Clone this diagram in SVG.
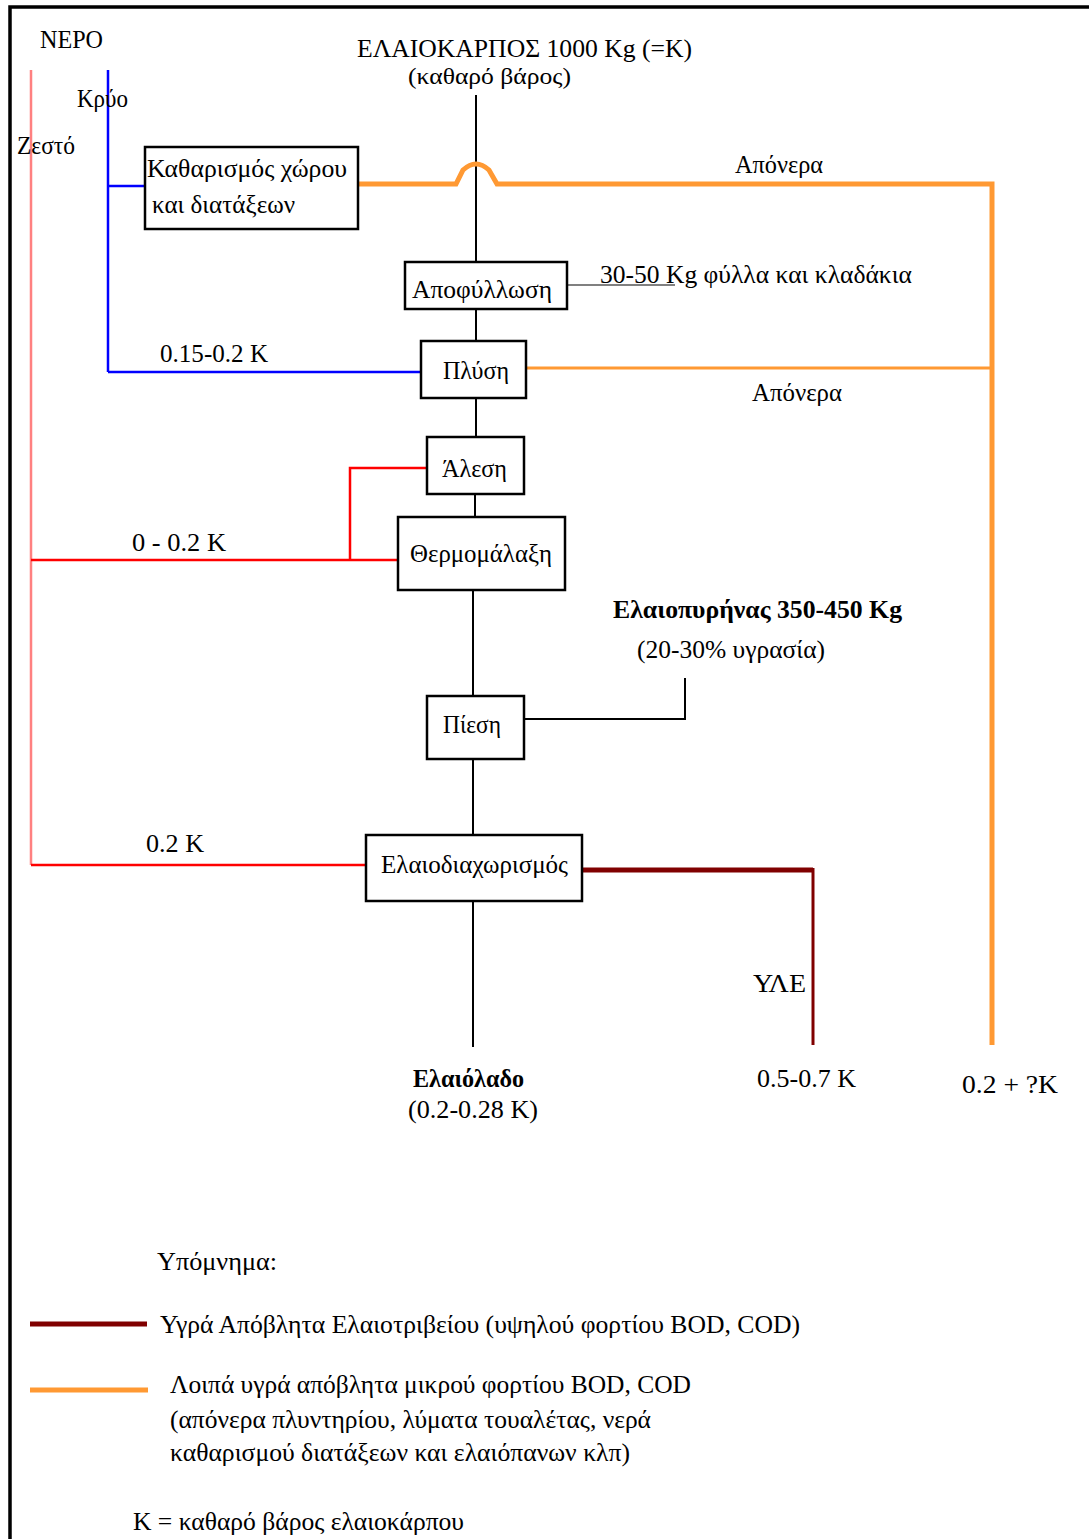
<svg xmlns="http://www.w3.org/2000/svg" width="1089" height="1539" viewBox="0 0 1089 1539">
<style>
text{font-family:"Liberation Serif","DejaVu Serif",serif;font-size:26px;fill:#000}
.b{font-weight:bold}
.s{font-size:23px}
.box{fill:#fff;stroke:#000;stroke-width:2.5}
.ln{fill:none;stroke:#000;stroke-width:2}
.blue{fill:none;stroke:#0000ff;stroke-width:2.5}
.pink{fill:none;stroke:#ff8080;stroke-width:2.5}
.red{fill:none;stroke:#ff0000;stroke-width:2.5}
.org{fill:none;stroke:#ff9933;stroke-width:5}
.org2{fill:none;stroke:#ff9933;stroke-width:3}
.dred{fill:none;stroke:#800000;stroke-width:5}
.gray{fill:none;stroke:#808080;stroke-width:2}
</style>
<rect width="1089" height="1539" fill="#fff"/>
<path d="M10,1539 V7 H1089" fill="none" stroke="#000" stroke-width="3.5"/>
<g id="connectors">
  <path class="pink" d="M31,70 V865"/>
  <path class="blue" d="M108,70 V372"/>
  <path class="blue" d="M108,186 H145"/>
  <path class="blue" d="M108,372 H421"/>
  <path class="ln" d="M476,95 V262"/>
  <path class="org" d="M358,184 H456 L463,170 Q476,158 489,170 L497,184 H992 V1045"/>
  <path class="gray" d="M567,285 H675"/>
  <path class="ln" d="M476,309 V341"/>
  <path class="org2" d="M526,368 H992"/>
  <path class="ln" d="M476,398 V437"/>
  <path class="red" d="M427,468 H350 V560"/>
  <path class="red" d="M31,560 H398"/>
  <path class="ln" d="M475,494 V517"/>
  <path class="ln" d="M473,590 V696"/>
  <path class="ln" d="M524,719 H685 V678"/>
  <path class="ln" d="M473,759 V835"/>
  <path class="red" d="M31,865 H366"/>
  <path class="dred" d="M582,870 H813"/>
  <path class="dred" d="M813,868 V1045" style="stroke-width:3"/>
  <path class="ln" d="M473,901 V1047"/>
</g>
<g id="labels">
  <text x="40" y="48" textLength="63" lengthAdjust="spacingAndGlyphs">ΝΕΡΟ</text>
  <text x="77" y="107" textLength="51" lengthAdjust="spacingAndGlyphs">Κρύο</text>
  <text x="17" y="154" textLength="58" lengthAdjust="spacingAndGlyphs">Ζεστό</text>
  <text x="357" y="57" textLength="335" lengthAdjust="spacingAndGlyphs">ΕΛΑΙΟΚΑΡΠΟΣ 1000 Kg (=K)</text>
  <text class="s" x="408" y="84" textLength="163" lengthAdjust="spacingAndGlyphs">(καθαρό βάρος)</text>
  <text x="735" y="173" textLength="88" lengthAdjust="spacingAndGlyphs">Απόνερα</text>
  <text x="600" y="283" textLength="312" lengthAdjust="spacingAndGlyphs">30-50 Kg φύλλα και κλαδάκια</text>
  <text x="160" y="362" textLength="108" lengthAdjust="spacingAndGlyphs">0.15-0.2 K</text>
  <text x="752" y="401" textLength="90" lengthAdjust="spacingAndGlyphs">Απόνερα</text>
  <text x="132" y="551" textLength="94" lengthAdjust="spacingAndGlyphs">0 - 0.2 K</text>
  <text class="b" x="613" y="618" textLength="289" lengthAdjust="spacingAndGlyphs">Ελαιοπυρήνας 350-450 Kg</text>
  <text x="637" y="658" textLength="188" lengthAdjust="spacingAndGlyphs">(20-30% υγρασία)</text>
  <text x="146" y="852" textLength="58" lengthAdjust="spacingAndGlyphs">0.2 K</text>
  <text x="753" y="992" textLength="53" lengthAdjust="spacingAndGlyphs">ΥΛΕ</text>
  <text class="b" x="413" y="1087" textLength="111" lengthAdjust="spacingAndGlyphs">Ελαιόλαδο</text>
  <text x="408" y="1118" textLength="130" lengthAdjust="spacingAndGlyphs">(0.2-0.28 K)</text>
  <text x="757" y="1087" textLength="99" lengthAdjust="spacingAndGlyphs">0.5-0.7 K</text>
  <text x="962" y="1093" textLength="96" lengthAdjust="spacingAndGlyphs">0.2 + ?K</text>
</g>
<g id="n-katharismos">
  <rect class="box" x="145" y="147" width="213" height="82"/>
  <text x="147" y="177" textLength="200" lengthAdjust="spacingAndGlyphs">Καθαρισμός χώρου</text>
  <text x="152" y="213" textLength="143" lengthAdjust="spacingAndGlyphs">και διατάξεων</text>
</g>
<g id="n-apofyllosi">
  <rect class="box" x="405" y="262" width="162" height="47"/>
  <text x="412" y="298" textLength="140" lengthAdjust="spacingAndGlyphs">Αποφύλλωση</text>
</g>
<g id="n-plysi">
  <rect class="box" x="421" y="341" width="105" height="57"/>
  <text x="443" y="379" textLength="66" lengthAdjust="spacingAndGlyphs">Πλύση</text>
</g>
<g id="n-alesi">
  <rect class="box" x="427" y="437" width="97" height="57"/>
  <text x="442" y="477" textLength="65" lengthAdjust="spacingAndGlyphs">Άλεση</text>
</g>
<g id="n-thermomalaxi">
  <rect class="box" x="398" y="517" width="167" height="73"/>
  <text x="410" y="562" textLength="142" lengthAdjust="spacingAndGlyphs">Θερμομάλαξη</text>
</g>
<g id="n-piesi">
  <rect class="box" x="427" y="696" width="97" height="63"/>
  <text x="443" y="733" textLength="58" lengthAdjust="spacingAndGlyphs">Πίεση</text>
</g>
<g id="n-elaiodiaxorismos">
  <rect class="box" x="366" y="835" width="216" height="66"/>
  <text x="381" y="873" textLength="187" lengthAdjust="spacingAndGlyphs">Ελαιοδιαχωρισμός</text>
</g>
<g id="legend">
  <text x="157" y="1270" textLength="120" lengthAdjust="spacingAndGlyphs">Υπόμνημα:</text>
  <path class="dred" d="M30,1324 H147"/>
  <text x="160" y="1333" textLength="640" lengthAdjust="spacingAndGlyphs">Υγρά Απόβλητα Ελαιοτριβείου (υψηλού φορτίου BOD, COD)</text>
  <path class="org" d="M30,1390 H148"/>
  <text x="170" y="1393" textLength="521" lengthAdjust="spacingAndGlyphs">Λοιπά υγρά απόβλητα μικρού φορτίου BOD, COD</text>
  <text x="170" y="1428" textLength="481" lengthAdjust="spacingAndGlyphs">(απόνερα πλυντηρίου, λύματα τουαλέτας, νερά</text>
  <text x="170" y="1461" textLength="460" lengthAdjust="spacingAndGlyphs">καθαρισμού διατάξεων και ελαιόπανων κλπ)</text>
  <text x="133" y="1530" textLength="331" lengthAdjust="spacingAndGlyphs">K = καθαρό βάρος ελαιοκάρπου</text>
</g>
</svg>
